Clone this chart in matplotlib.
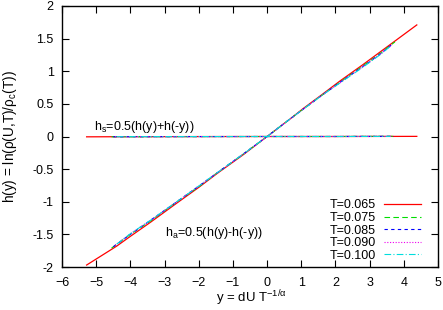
import matplotlib
matplotlib.use("Agg")
import matplotlib.pyplot as plt

plt.rcParams['font.family'] = ['Liberation Sans', 'DejaVu Sans']
plt.rcParams['mathtext.fontset'] = 'custom'
plt.rcParams['mathtext.rm'] = 'Liberation Sans'
plt.rcParams['mathtext.it'] = 'Liberation Sans:italic'
plt.rcParams['mathtext.default'] = 'regular'

# ---- data ----
labels = ['T=0.065', 'T=0.075', 'T=0.085', 'T=0.090', 'T=0.100']
colors = ['#ff0000', '#00dd00', '#0000ff', '#ee00ee', '#00dddd']

# antisymmetric part h_a(y)
ha_x_065 = [-5.28, -4.40, -4.00, -3.40, -2.64, -2.00, -1.47, -0.70, 0.0, 0.70, 1.06, 1.60, 2.13, 2.80, 3.50, 4.38]
ha_y_065 = [-1.97, -1.68, -1.53, -1.31, -1.02, -0.78, -0.57, -0.28, 0.0, 0.28, 0.43, 0.64, 0.85, 1.10, 1.37, 1.71]
ha_x_075 = [-4.55, -4.00, -3.40, -2.64, -2.00, -1.47, -0.70, 0.0, 0.70, 1.06, 1.60, 2.13, 2.80, 3.30, 3.74]
ha_y_075 = [-1.71, -1.50, -1.29, -1.00, -0.77, -0.56, -0.27, 0.0, 0.28, 0.42, 0.63, 0.83, 1.08, 1.27, 1.45]
ha_x_085 = [-4.50, -4.00, -3.40, -2.64, -2.00, -1.47, -0.70, 0.0, 0.70, 1.06, 1.60, 2.13, 2.80, 3.30, 3.70]
ha_y_085 = [-1.69, -1.50, -1.28, -1.00, -0.76, -0.56, -0.27, 0.0, 0.28, 0.42, 0.63, 0.83, 1.07, 1.26, 1.43]
ha_x_090 = [-4.45, -4.00, -3.40, -2.64, -2.00, -1.47, -0.70, 0.0, 0.70, 1.06, 1.60, 2.13, 2.80, 3.30, 3.65]
ha_y_090 = [-1.67, -1.49, -1.28, -1.00, -0.76, -0.56, -0.27, 0.0, 0.28, 0.42, 0.63, 0.82, 1.07, 1.26, 1.40]
ha_x_100 = [-4.40, -4.00, -3.40, -2.64, -2.00, -1.47, -0.70, 0.0, 0.70, 1.06, 1.60, 2.13, 2.80, 3.30, 3.60]
ha_y_100 = [-1.65, -1.49, -1.28, -1.00, -0.76, -0.56, -0.27, 0.0, 0.28, 0.42, 0.63, 0.82, 1.06, 1.25, 1.38]

# symmetric part h_s(y)
hs_x_065 = [-5.28, -4.0, -2.0, 0.0, 2.0, 4.38]
hs_y_065 = [-0.005, -0.003, -0.001, 0.0, 0.0, 0.002]
hs_x_075 = [-4.55, -2.0, 0.0, 2.0, 3.74]
hs_y_075 = [-0.004, -0.001, 0.0, 0.0, 0.003]
hs_x_085 = [-4.50, -2.0, 0.0, 2.0, 3.70]
hs_y_085 = [-0.004, -0.001, 0.0, 0.0, 0.002]
hs_x_090 = [-4.45, -2.0, 0.0, 2.0, 3.65]
hs_y_090 = [-0.003, -0.001, 0.0, 0.0, 0.002]
hs_x_100 = [-4.40, -2.0, 0.0, 2.0, 3.60]
hs_y_100 = [-0.003, -0.001, 0.0, 0.0, 0.002]

ha_x = [ha_x_065, ha_x_075, ha_x_085, ha_x_090, ha_x_100]
ha_y = [ha_y_065, ha_y_075, ha_y_085, ha_y_090, ha_y_100]
hs_x = [hs_x_065, hs_x_075, hs_x_085, hs_x_090, hs_x_100]
hs_y = [hs_y_065, hs_y_075, hs_y_085, hs_y_090, hs_y_100]

xticks = [-6, -5, -4, -3, -2, -1, 0, 1, 2, 3, 4, 5]
yticks = [-2, -1.5, -1, -0.5, 0, 0.5, 1, 1.5, 2]
ytick_labels = ['-2', '-1.5', '-1', '-0.5', '0', '0.5', '1', '1.5', '2']

styles = ['-', (0, (5, 3)), (0, (3, 3)), (0, (1, 1.5)), (0, (6, 2, 1, 2))]
widths = [0.9, 0.8, 0.8, 0.8, 0.8]

FS = 9

fig = plt.figure(figsize=(4.43, 3.10), dpi=100)
ax = fig.add_axes([62/443, 1-267/310, (438-62)/443, (267-6)/310])

for i in range(len(labels)):
    ax.plot(ha_x[i], ha_y[i], color=colors[i], ls=styles[i], lw=widths[i], label=labels[i])
    ax.plot(hs_x[i], hs_y[i], color=colors[i], ls=styles[i], lw=widths[i])

ax.set_xlim(-6, 5)
ax.set_ylim(-2, 2)
ax.set_xticks(xticks)
ax.set_yticks(yticks)
ax.set_yticklabels(ytick_labels)
ax.tick_params(direction='in', length=5, width=0.8, top=True, right=True,
               labelsize=FS, labelcolor='black')
ax.tick_params(axis='x', pad=7)
ax.tick_params(axis='y', pad=6)
for s in ax.spines.values():
    s.set_linewidth(1.0)

ax.set_xlabel('y = dU T$^{-1/α}$', fontsize=9.5)
ax.xaxis.set_label_coords((251 - 62) / 376, (267 - 288) / 261)
ax.set_ylabel('h(y) = ln(ρ(U,T)/ρ$_{c}$(T))', fontsize=9.8)
ax.yaxis.set_label_coords((10 - 62) / 376, 0.5)
ax.yaxis.label.set_va('center')

ax.text(-5.06, 0.15, 'h$_s$=0.5(h(y)+h(-y))', fontsize=FS, va='center', ha='left')
ax.text(-2.99, -1.48, 'h$_a$=0.5(h(y)-h(-y))', fontsize=FS, va='center', ha='left')

leg = ax.legend(loc='lower right', bbox_to_anchor=((421 - 62) / 376, 0.02), frameon=False,
                fontsize=FS, markerfirst=False, handlelength=3.0, handletextpad=0.6,
                labelspacing=0.05, borderaxespad=0.0, borderpad=0.0)

fig.savefig('out.png', dpi=100)
